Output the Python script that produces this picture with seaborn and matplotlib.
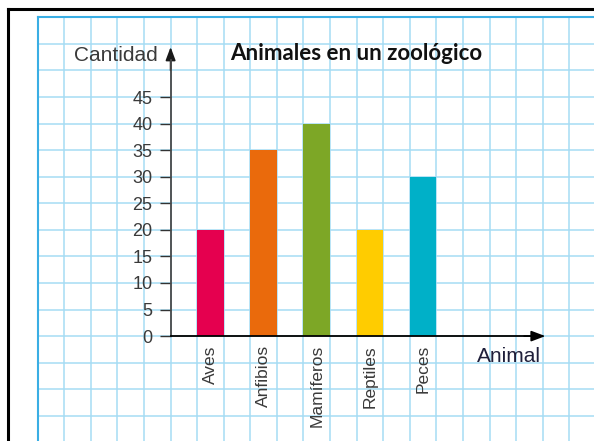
import numpy as np
import matplotlib
matplotlib.use('Agg')
import matplotlib.pyplot as plt
from matplotlib.lines import Line2D
import seaborn as sns

# data
animales = ['Aves', 'Anfibios', 'Mamíferos', 'Reptiles', 'Peces']
cantidad = [20, 35, 40, 20, 30]
colores = ['#E5004F', '#EA6A0C', '#7DA726', '#FFCC00', '#00B0C8']
y_ticks = [0, 5, 10, 15, 20, 25, 30, 35, 40, 45]
y_labels = ['0', '5', '10', '15', '20', '25', '30', '35', '40', '45']

font = 'Liberation Sans'
txt_col = '#3a3a3a'
grid_col = '#a6dcf4'

fig = plt.figure(figsize=(5.94, 4.41), dpi=100)
ax = fig.add_axes([37.7 / 594, 0, (594 - 37.7) / 594, (441 - 17.3) / 441])

sns.barplot(x=animales, y=cantidad, hue=animales, palette=colores, width=0.5,
            saturation=1, legend=False, ax=ax, zorder=3)

ax.set_xlim(-3.25, 7.215)
ax.set_ylim(-19.74, 60)

# squared paper (behind everything)
ax.vlines(np.arange(-2.75, 7.3, 0.5), -19.74, 60, color=grid_col, lw=1.1, zorder=0.3)
ax.hlines(np.arange(-15, 56, 5), -3.25, 7.215, color=grid_col, lw=1.1, zorder=0.3)
ax.axvline(-3.25, color='#3aaee4', lw=1.5, clip_on=False, zorder=0.4)
ax.axhline(60, color='#3aaee4', lw=1.5, clip_on=False, zorder=0.4)

# axes
ax.spines['top'].set_visible(False)
ax.spines['right'].set_visible(False)
ax.spines['left'].set_position(('data', -0.75))
ax.spines['left'].set_bounds(0, 52)
ax.spines['left'].set_color('#4a4a4a')
ax.spines['left'].set_linewidth(1.3)
ax.spines['bottom'].set_position(('data', 0))
ax.spines['bottom'].set_bounds(-0.75, 6.1)
ax.spines['bottom'].set_color('black')
ax.spines['bottom'].set_linewidth(1.3)
ax.spines['left'].set_zorder(4)
ax.spines['bottom'].set_zorder(4)

ax.annotate('', xy=(-0.75, 54.4), xytext=(-0.75, 50.0),
            arrowprops=dict(arrowstyle='-|>,head_length=0.8,head_width=0.3',
                            color='#1a1a1a', lw=1.2, shrinkA=0, shrinkB=0),
            annotation_clip=False)
ax.annotate('', xy=(6.30, 0), xytext=(5.9, 0),
            arrowprops=dict(arrowstyle='-|>,head_length=0.85,head_width=0.32',
                            color='black', lw=1.2, shrinkA=0, shrinkB=0),
            annotation_clip=False)

ax.set_yticks(y_ticks)
ax.set_yticklabels(y_labels, family=font, fontsize=13, color=txt_col)
ax.tick_params(axis='y', which='major', length=8, width=1.0, color='#333333', pad=5)

ax.set_xticks(range(len(animales)))
ax.set_xticklabels(animales, rotation=90, family=font, fontsize=12.5, color=txt_col, va='top')
ax.tick_params(axis='x', which='major', length=0, pad=6.5)
ax.set_xlabel('')
ax.set_ylabel('')

ax.text(-1.0, 51.7, 'Cantidad', ha='right', va='baseline', family=font,
        fontsize=15, color=txt_col)
ax.text(6.218, -4.89, 'Animal', ha='right', va='baseline', family=font,
        fontsize=15, color='#1f1f3a')
ax.text(0.373, 52.0, 'Animales en un zoológico', ha='left', va='baseline',
        family='Lato', fontweight='bold', fontsize=16, color='#111111')

# page frame
fig.add_artist(Line2D([8 / 594, 8 / 594], [0, 1 - 9 / 441], color='black', lw=2.2))
fig.add_artist(Line2D([8 / 594, 1], [1 - 9 / 441, 1 - 9 / 441], color='black', lw=2.2))

fig.savefig('out.png', dpi=100)
